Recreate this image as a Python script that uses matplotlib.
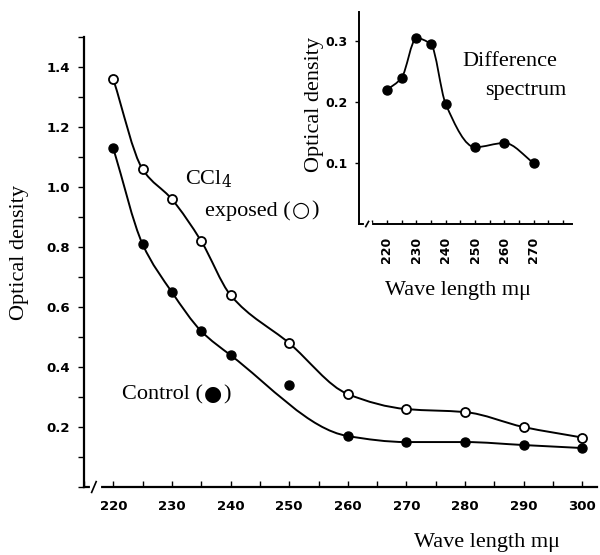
import numpy as np
import matplotlib
matplotlib.use("Agg")
import matplotlib.pyplot as plt
from matplotlib.path import Path
from matplotlib.patches import PathPatch
from matplotlib.ticker import MultipleLocator

# main chart data
wave = [220, 225, 230, 235, 240, 250, 260, 270, 280, 290, 300]
exposed = [1.36, 1.06, 0.96, 0.82, 0.64, 0.48, 0.31, 0.26, 0.25, 0.20, 0.165]
control = [1.13, 0.81, 0.65, 0.52, 0.44, 0.34, 0.17, 0.15, 0.15, 0.14, 0.13]
control_skip = [250]  # point that sits off the drawn curve

# inset (difference spectrum)
diff_wave = [220, 225, 230, 235, 240, 250, 260, 270]
diff_od = [0.22, 0.24, 0.305, 0.295, 0.197, 0.126, 0.133, 0.10]

main_xticks = [220, 230, 240, 250, 260, 270, 280, 290, 300]
main_yticks = [0.2, 0.4, 0.6, 0.8, 1.0, 1.2, 1.4]
inset_xticks = [220, 230, 240, 250, 260, 270]
inset_yticks = [0.1, 0.2, 0.3]

serif = "Liberation Serif"
tickfont = dict(family="DejaVu Sans", weight="bold")
lab = 16


def slopes(xs, ys):
    # pchip style slopes, keeps the curve from wobbling
    h = np.diff(xs)
    d = np.diff(ys) / h
    n = len(xs)
    m = np.zeros(n)
    m[0], m[-1] = d[0], d[-1]
    for k in range(1, n - 1):
        if d[k - 1] * d[k] <= 0:
            m[k] = 0.0
        else:
            w1 = 2 * h[k] + h[k - 1]
            w2 = h[k] + 2 * h[k - 1]
            m[k] = (w1 + w2) / (w1 / d[k - 1] + w2 / d[k])
    return m


def smooth_curve(ax, xs, ys, lw=1.4):
    xs = np.asarray(xs, float)
    ys = np.asarray(ys, float)
    m = slopes(xs, ys)
    verts = [(xs[0], ys[0])]
    codes = [Path.MOVETO]
    for i in range(len(xs) - 1):
        h = xs[i + 1] - xs[i]
        verts += [(xs[i] + h / 3, ys[i] + m[i] * h / 3),
                  (xs[i + 1] - h / 3, ys[i + 1] - m[i + 1] * h / 3),
                  (xs[i + 1], ys[i + 1])]
        codes += [Path.CURVE4] * 3
    ax.add_patch(PathPatch(Path(verts, codes), fill=False, lw=lw, color="black", zorder=2))


def axis_break(ax, x0, w):
    # little slash in the bottom axis line
    tr = ax.get_xaxis_transform()
    ax.plot([x0, x0 + w], [0, 0], color="white", lw=3, transform=tr, clip_on=False, zorder=5)
    ax.plot([x0, x0 + w * 0.6], [-0.012, 0.012], color="black", lw=1.2, transform=tr,
            clip_on=False, zorder=6)


def px(x, y):
    return x / 600, 1 - y / 555


def label_with_symbol(fig, x, y, word, sym):
    # "word (sym)" with the symbol glyph taken from DejaVu Sans
    r = fig.canvas.get_renderer()
    t = fig.text(*px(x, y), word + " (", fontsize=lab, family=serif, va="center")
    x1 = t.get_window_extent(r).x1 + 1
    s = fig.text(x1 / 600, 1 - (y - 1) / 555, sym, fontsize=15, family="DejaVu Sans",
                 va="center")
    x2 = s.get_window_extent(r).x1 + 1
    fig.text(x2 / 600, 1 - y / 555, ")", fontsize=lab, family=serif, va="center")


fig = plt.figure(figsize=(6, 5.55), dpi=100)

# ---- main axes
ax = fig.add_axes([0.14, 0.1225, 0.855, 0.81])
ax.set_xlim(215, 302.5)
ax.set_ylim(0, 1.5)
for s in ["top", "right"]:
    ax.spines[s].set_visible(False)
for s in ["left", "bottom"]:
    ax.spines[s].set_linewidth(1.6)

smooth_curve(ax, wave, exposed)
cw = [w for w in wave if w not in control_skip]
cv = [v for w, v in zip(wave, control) if w not in control_skip]
smooth_curve(ax, cw, cv)
ax.plot(wave, exposed, "o", ms=6.5, mfc="white", mec="black", mew=1.3, zorder=3)
ax.plot(wave, control, "o", ms=6.5, color="black", zorder=3)

ax.set_xticks(main_xticks)
ax.set_xticklabels([str(t) for t in main_xticks], fontsize=9.5, **tickfont)
ax.xaxis.set_minor_locator(MultipleLocator(5))
ax.tick_params(axis="x", which="both", direction="in", length=4, width=1, pad=9)
ax.set_yticks(main_yticks)
ax.set_yticklabels(["%.1f" % t for t in main_yticks], fontsize=9.5, **tickfont)
ax.yaxis.set_minor_locator(MultipleLocator(0.1))
ax.tick_params(axis="y", which="both", direction="out", length=4, width=1, pad=6)
axis_break(ax, 216.3, 1.3)

fig.text(*px(185, 179), "CCl$_4$", fontsize=lab, family=serif, va="center",
         math_fontfamily="dejavuserif")
label_with_symbol(fig, 205, 211, "exposed", "\u25cb")
label_with_symbol(fig, 122, 395, "Control", "\u25cf")
fig.text(*px(20, 253), "Optical density", fontsize=lab, family=serif,
         rotation=90, ha="center", va="center")
fig.text(*px(487, 543), "Wave length m\u03bc", fontsize=lab, family=serif,
         ha="center", va="center")

# ---- inset
ins = fig.add_axes([359 / 600, 1 - 224 / 555, 213 / 600, 212 / 555])
ins.set_xlim(210.5, 283)
ins.set_ylim(0, 0.348)
for s in ["top", "right"]:
    ins.spines[s].set_visible(False)
for s in ["left", "bottom"]:
    ins.spines[s].set_linewidth(1.4)
smooth_curve(ins, diff_wave, diff_od, lw=1.3)
ins.plot(diff_wave, diff_od, "o", ms=6.5, color="black", zorder=3)
ins.set_xticks(inset_xticks)
ins.set_xticklabels([str(t) for t in inset_xticks], fontsize=9, rotation=90, **tickfont)
ins.xaxis.set_minor_locator(MultipleLocator(5))
ins.tick_params(axis="x", which="both", direction="in", length=3, width=1, pad=9)
ins.set_yticks(inset_yticks)
ins.set_yticklabels(["%.1f" % t for t in inset_yticks], fontsize=9, **tickfont)
ins.tick_params(axis="y", direction="out", length=3, width=1, pad=5)
axis_break(ins, 212.8, 1.6)

fig.text(*px(315, 104), "Optical density", fontsize=lab, family=serif,
         rotation=90, ha="center", va="center")
fig.text(*px(458, 291), "Wave length m\u03bc", fontsize=lab, family=serif,
         ha="center", va="center")
fig.text(*px(462, 62), "Difference", fontsize=lab, family=serif, va="center")
fig.text(*px(485, 90), "spectrum", fontsize=lab, family=serif, va="center")

fig.savefig("out.png", dpi=100)
